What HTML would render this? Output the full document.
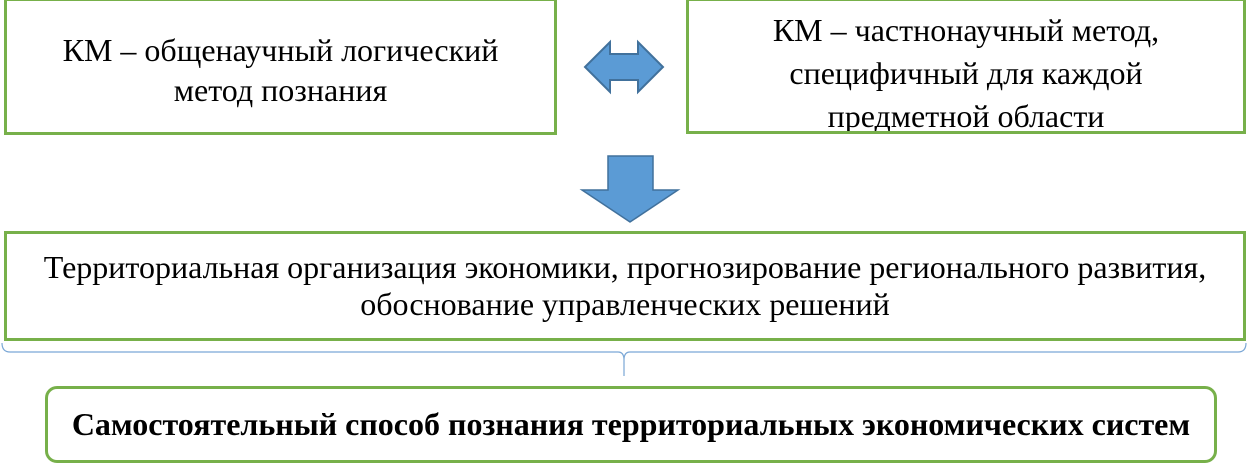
<!DOCTYPE html>
<html><head><meta charset="utf-8"><style>
body{margin:0;width:1248px;height:467px;background:#fff;position:relative;overflow:hidden;font-family:"Liberation Serif",serif;color:#000}
.box{position:absolute;border:3px solid #77b04a;box-sizing:border-box;background:#fff;overflow:hidden}
.t{position:absolute;left:0;right:0;text-align:center;font-size:32px;white-space:nowrap;line-height:36px}
</style></head><body>
<div class="box" style="left:4px;top:-2px;width:553px;height:137px">
 <div class="t" style="top:31px">КМ – общенаучный логический</div>
 <div class="t" style="top:71px">метод познания</div>
</div>
<div class="box" style="left:686px;top:-2px;width:560px;height:136px">
 <div class="t" style="top:11px">КМ – частнонаучный метод,</div>
 <div class="t" style="top:54px">специфичный для каждой</div>
 <div class="t" style="top:97px">предметной области</div>
</div>
<svg style="position:absolute;left:0;top:0" width="1248" height="467">
 <polygon points="585,67 610,42 610,54 638,54 638,42 663,67 638,92 638,80 610,80 610,92" fill="#5b9bd5" stroke="#41719c" stroke-width="2"/>
 <polygon points="608,156 653,156 653,190 678,190 630,222 582,190 608,190" fill="#5b9bd5" stroke="#41719c" stroke-width="1.5"/>
 <path d="M2,343 Q2,352 10,352 L618,352 Q624,352 624,360 L624,376 M624,360 Q624,352 630,352 L1238,352 Q1246,352 1246,343" fill="none" stroke="#7aa7d6" stroke-width="1.2"/>
</svg>
<div class="box" style="left:4px;top:231px;width:1242px;height:110px">
 <div class="t" style="top:15px">Территориальная организация экономики, прогнозирование регионального развития,</div>
 <div class="t" style="top:52px">обоснование управленческих решений</div>
</div>
<div class="box" style="left:45px;top:386px;width:1172px;height:77px;border-radius:12px">
 <div class="t" style="top:17px;font-weight:bold">Самостоятельный способ познания территориальных экономических систем</div>
</div>
</body></html>
